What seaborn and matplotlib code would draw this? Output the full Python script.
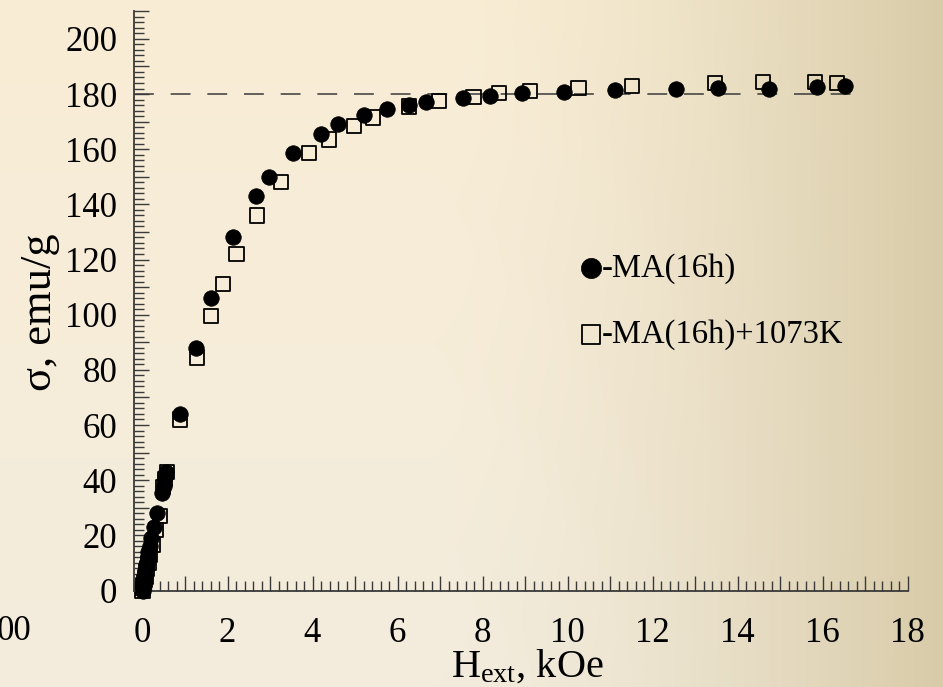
import numpy as np
import pandas as pd
import matplotlib
matplotlib.use("Agg")
import matplotlib.pyplot as plt
import seaborn as sns
from matplotlib.ticker import MultipleLocator, FuncFormatter

# ---- data ----
h_ma = [0, 0.01, 0.02, 0.03, 0.04, 0.05, 0.06, 0.08, 0.10, 0.12,
        0.14, 0.17, 0.21, 0.27, 0.34, 0.45, 0.50, 0.53, 0.56, 0.88,
        1.27, 1.61, 2.14, 2.67, 2.97, 3.53, 4.19, 4.60, 5.21, 5.76,
        6.27, 6.68, 7.54, 8.17, 8.92, 9.92, 11.11, 12.56, 13.54, 14.74,
        15.86, 16.52]
s_ma = [0, 1, 2, 3, 4, 5, 6, 8, 10, 12,
        14, 16, 19, 23, 28, 35.5, 38, 41, 43, 64,
        88, 106, 128, 143, 150, 158.5, 165.5, 169, 172.5, 174.5,
        176, 177, 178.5, 179.3, 180.3, 180.9, 181.5, 181.7, 182.1, 181.8,
        182.7, 183.0]

h_ann = [0, 0.01, 0.02, 0.03, 0.05, 0.07, 0.09, 0.11, 0.14, 0.18,
         0.25, 0.31, 0.41, 0.49, 0.53, 0.58, 0.89, 1.28, 1.61, 1.90,
         2.21, 2.70, 3.25, 3.91, 4.39, 4.97, 5.43, 6.27, 6.97, 7.79,
         8.39, 9.11, 10.26, 11.51, 13.47, 14.60, 15.82, 16.34]
s_ann = [0, 1, 2, 3, 4, 5, 7, 8, 10, 13,
         16.5, 22, 27, 37.5, 40.5, 43, 62, 84.5, 99.5, 111,
         122, 136, 148, 158.5, 163.5, 168.5, 171.5, 175.5, 177.5, 179,
         180.5, 181.2, 182.2, 183, 184, 184.3, 184.3, 184]

sat_level = 180
sat_range = [-0.2, 16.9]

label_ma = "-MA(16h)"
label_ann = "-MA(16h)+1073K"
x_ticklabels = [0, 2, 4, 6, 8, 10, 12, 14, 16, 18]
y_ticklabels = [0, 20, 40, 60, 80, 100, 120, 140, 160, 180, 200]

df_ma = pd.DataFrame({"H": h_ma, "sigma": s_ma})
df_ann = pd.DataFrame({"H": h_ann, "sigma": s_ann})

# ---- style ----
sns.set_style("ticks")
plt.rcParams["font.family"] = ["Liberation Serif", "DejaVu Serif"]
plt.rcParams["mathtext.fontset"] = "custom"
plt.rcParams["mathtext.rm"] = "Liberation Serif"
plt.rcParams["mathtext.it"] = "Liberation Serif:italic"

W, H = 943, 687
fig = plt.figure(figsize=(W / 100, H / 100), dpi=100)

# background gradient
yy, xx = np.mgrid[0:H, 0:W]
vy = yy / (H - 1)
top = np.array([249, 237, 213]) / 255
bot = np.array([243, 236, 221]) / 255
right = np.array([216, 203, 168]) / 255
left_col = top[None, None, :] * (1 - vy[..., None]) + bot[None, None, :] * vy[..., None]
t = np.clip((xx - 430) / (W - 430), 0, 1) ** 1.6
img = left_col * (1 - t[..., None]) + right[None, None, :] * t[..., None]
bg = fig.add_axes([0, 0, 1, 1], zorder=-10)
bg.imshow(img, aspect="auto", interpolation="bilinear")
bg.axis("off")

AX_L, AX_B, AX_W, AX_H = 134, 96.5, 773.5, 579.2
ax = fig.add_axes([AX_L / W, AX_B / H, AX_W / W, AX_H / H])
ax.set_facecolor("none")

axis_col = "#3a3a3a"
ax.plot(sat_range, [sat_level, sat_level], color=axis_col, lw=1.1,
        ls=(0, (13, 11)), zorder=1)

sns.scatterplot(data=df_ann, x="H", y="sigma", ax=ax, marker="s", s=105,
                facecolor="none", edgecolor="black", linewidth=1.3,
                label=label_ann, clip_on=False, zorder=2)
sns.scatterplot(data=df_ma, x="H", y="sigma", ax=ax, marker="o", s=125,
                color="black", edgecolor="black", linewidth=0.5,
                label=label_ma, clip_on=False, zorder=3)

ax.set_xlim(-0.2, 18)
ax.set_ylim(0, 210)

for side in ["top", "right"]:
    ax.spines[side].set_visible(False)
for side in ["left", "bottom"]:
    ax.spines[side].set_color(axis_col)
    ax.spines[side].set_linewidth(1.3)

ax.xaxis.set_major_locator(MultipleLocator(1))
ax.xaxis.set_minor_locator(MultipleLocator(0.2))
ax.yaxis.set_major_locator(MultipleLocator(10))
ax.yaxis.set_minor_locator(MultipleLocator(2))

def xfmt(v, pos):
    r = int(round(v))
    return str(r) if abs(v - r) < 1e-6 and r in x_ticklabels else ""

def yfmt(v, pos):
    r = int(round(v))
    return str(r) if abs(v - r) < 1e-6 and r in y_ticklabels else ""

ax.xaxis.set_major_formatter(FuncFormatter(xfmt))
ax.yaxis.set_major_formatter(FuncFormatter(yfmt))

ax.tick_params(axis="x", which="major", direction="in", length=11, width=1.0,
               color=axis_col, pad=19, labelsize=25, labelcolor="black")
ax.tick_params(axis="x", which="minor", direction="in", length=7, width=1.0,
               color=axis_col)
ax.tick_params(axis="y", which="major", direction="in", length=11, width=1.0,
               color=axis_col, pad=12, labelsize=25, labelcolor="black")
ax.tick_params(axis="y", which="minor", direction="in", length=7, width=1.0,
               color=axis_col)

ax.set_xlabel(r"H$_{\rm ext}$, kOe", fontsize=29, color="black")
ax.xaxis.set_label_coords((527 - AX_L) / AX_W, -(648 - (H - AX_B)) / AX_H)
ax.set_ylabel("σ, emu/g", fontsize=32, color="black")
ax.yaxis.set_label_coords((60 - AX_L) / AX_W, 0.48)

# legend
handles, labels = ax.get_legend_handles_labels()
order = [labels.index(label_ma), labels.index(label_ann)]
leg = ax.legend([handles[i] for i in order], [labels[i] for i in order],
                loc="upper left",
                bbox_to_anchor=((581 - AX_L) / AX_W, ((H - AX_B) - 253) / AX_H),
                frameon=False, fontsize=23.5, handlelength=0.6, handletextpad=0.05,
                labelspacing=1.1, markerscale=1.3, borderpad=0, borderaxespad=0)
for txt in leg.get_texts():
    txt.set_color("black")

# cropped remnant text at bottom-left
fig.text(31 / W, 1 - 632 / H, "00", fontsize=25, ha="right", va="center",
         color="black")

fig.savefig("out.png", dpi=100)
